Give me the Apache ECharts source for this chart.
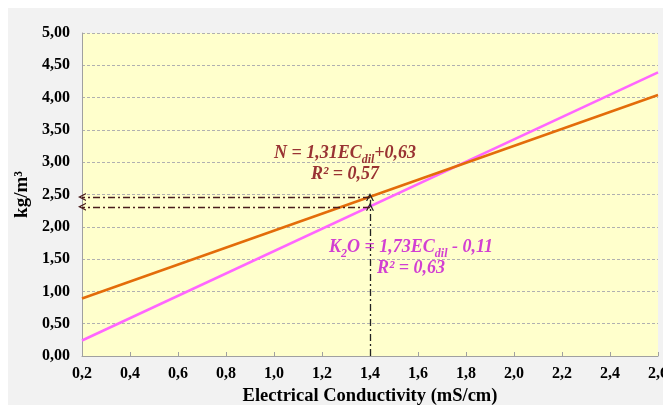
<!DOCTYPE html>
<html><head><meta charset="utf-8">
<script src="https://cdn.jsdelivr.net/npm/echarts@6/dist/echarts.min.js"></script>
<style>html,body{margin:0;padding:0;background:#fff}#c{width:663px;height:405px}</style>
</head><body><div id="c"></div>
<script>
// Data
const ecPoints = [0.2, 2.6];          // Electrical conductivity (mS/cm), line end points
const nValues = [0.89, 4.04];         // N = 1,31EC + 0,63
const k2oValues = [0.24, 4.39];       // K2O = 1,73EC - 0,11
const readEC = 1.4;                   // reading position on x
const readN = 2.46;                   // N value read at EC 1.4
const readK = 2.31;                   // K2O value read at EC 1.4
const xMin = 0.2, xMax = 2.6, xStep = 0.2;
const yMin = 0, yMax = 5, yStep = 0.5;

const serif = '"Liberation Serif", "Times New Roman", serif';
const chev = 'path://M5,0 L10,8 L8.4,8 L5,2.8 L1.6,8 L0,8 Z';

const chart = echarts.init(document.getElementById('c'), null, {renderer: 'canvas'});
const dashDot = [7, 3, 2, 3];
const option = {
  backgroundColor: '#ffffff',
  animation: false,
  grid: {left: 82, right: 5, top: 33, bottom: 49, show: true, backgroundColor: '#ffffcc', borderWidth: 0,
    containLabel: false, outerBoundsMode: 'none'},
  xAxis: {
    type: 'value', min: xMin, max: xMax, interval: xStep,
    name: 'Electrical Conductivity (mS/cm)', nameLocation: 'middle', nameGap: 30,
    nameTextStyle: {fontFamily: serif, fontWeight: 'bold', fontSize: 18.5, color: '#000'},
    axisLine: {show: true, lineStyle: {color: '#a0a0a0', width: 1}},
    axisTick: {show: true, inside: true, length: 4, lineStyle: {color: '#a0a0a0'}},
    axisLabel: {fontFamily: serif, fontWeight: 'bold', fontSize: 16, color: '#000', margin: 10,
      formatter: v => v.toFixed(1).replace('.', ',')},
    splitLine: {show: false}
  },
  yAxis: {
    type: 'value', min: yMin, max: yMax, interval: yStep,
    name: 'kg/m³', nameLocation: 'middle', nameGap: 50, nameRotate: 90,
    nameTextStyle: {fontFamily: serif, fontWeight: 'bold', fontSize: 19, color: '#000'},
    axisLine: {show: true, lineStyle: {color: '#a0a0a0', width: 1}},
    axisTick: {show: false},
    axisLabel: {fontFamily: serif, fontWeight: 'bold', fontSize: 16, color: '#000', margin: 12,
      formatter: v => v.toFixed(2).replace('.', ',')},
    splitLine: {show: true, lineStyle: {color: '#b0b0b0', type: [3, 2], width: 1}}
  },
  series: [
    {type: 'line', name: 'K2O', data: ecPoints.map((x, i) => [x, k2oValues[i]]),
      symbol: 'none', lineStyle: {color: '#ff66ff', width: 2.5}, z: 3},
    {type: 'line', name: 'N', data: ecPoints.map((x, i) => [x, nValues[i]]),
      symbol: 'none', lineStyle: {color: '#e36c0a', width: 2.5}, z: 4},
    {type: 'line', name: 'guides', data: [], symbol: 'none', z: 5,
      markLine: {
        silent: true, symbol: ['none', chev], symbolSize: [8, 8], label: {show: false},
        data: [
          [{coord: [readEC, 0], lineStyle: {color: '#222', type: dashDot, width: 1.3}},
           {coord: [readEC, readK]}],
          [{coord: [readEC, readK], lineStyle: {color: '#222', type: dashDot, width: 1.3}},
           {coord: [readEC, readN]}],
          [{coord: [readEC, readN], lineStyle: {color: '#4a1c1c', type: dashDot, width: 1.3}},
           {coord: [xMin, readN]}],
          [{coord: [readEC, readK], lineStyle: {color: '#4a1c1c', type: dashDot, width: 1.3}},
           {coord: [xMin, readK]}]
        ]
      }}
  ]
};
chart.setOption(option);

const nCol = '#993333', kCol = '#d23fd2';
function rt(color) {
  return {
    m: {fontFamily: serif, fontWeight: 'bold', fontStyle: 'italic', fontSize: 18, fill: color, color: color, lineHeight: 26},
    s: {fontFamily: serif, fontWeight: 'bold', fontStyle: 'italic', fontSize: 12, fill: color, color: color, lineHeight: 12, verticalAlign: 'bottom'}
  };
}
chart.setOption({
  graphic: [
    {type: 'rect', z: -10, shape: {x: 8, y: 8, width: 655, height: 397}, style: {fill: '#f2f2f2'}, silent: true},
    {type: 'text', x: 345, y: 153, z: 10, style: {text: '{m|N = 1,31EC}{s|dil}{m|+0,63}', fill: nCol, rich: rt(nCol), align: 'center', verticalAlign: 'middle'}},
    {type: 'text', x: 345, y: 174, z: 10, style: {text: '{m|R² = 0,57}', fill: nCol, rich: rt(nCol), align: 'center', verticalAlign: 'middle'}},
    {type: 'text', x: 411, y: 247, z: 10, style: {text: '{m|K}{s|2}{m|O = 1,73EC}{s|dil}{m| - 0,11}', fill: kCol, rich: rt(kCol), align: 'center', verticalAlign: 'middle'}},
    {type: 'text', x: 411, y: 268, z: 10, style: {text: '{m|R² = 0,63}', fill: kCol, rich: rt(kCol), align: 'center', verticalAlign: 'middle'}}
  ]
});
</script></body></html>
